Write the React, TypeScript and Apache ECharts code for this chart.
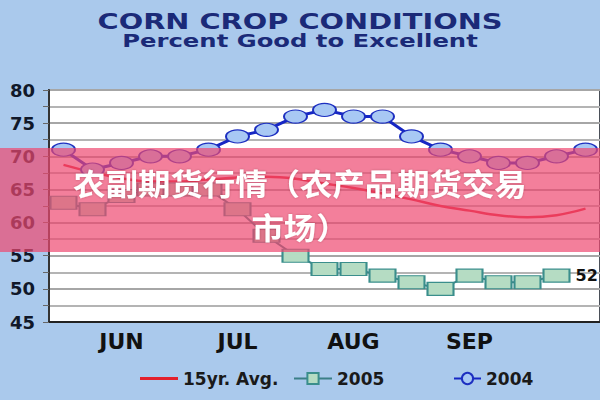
import React, { useEffect, useRef } from "react";
import * as echarts from "echarts";

const weeks = ["5/30", "6/6", "6/13", "6/20", "6/27", "7/4", "7/11", "7/18", "7/25", "8/1", "8/8", "8/15", "8/22", "8/29", "9/5", "9/12", "9/19", "9/26", "10/3"];
const monthLabels = ["", "", "JUN", "", "", "", "JUL", "", "", "", "AUG", "", "", "", "SEP", "", "", "", ""];
const avg15 = [68.7, 67.6, 66.7, 66.2, 66.2, 66.5, 66.8, 66.9, 66.6, 65.9, 65.2, 64.4, 63.5, 62.5, 61.8, 61.1, 60.8, 61.1, 62.1];
const y2005 = [63, 62, 64, 65, 65, 65, 62, 58, 55, 53, 53, 52, 51, 50, 52, 51, 51, 52];
const y2004 = [71, 68, 69, 70, 70, 71, 73, 74, 76, 77, 76, 76, 73, 71, 70, 69, 69, 70, 71];

const FONT = "DejaVu Sans";
const legendText = { fontFamily: FONT, fontWeight: "bold", fontSize: 17, color: "#1a1a1a" };

export default function App() {
  const ref = useRef<HTMLDivElement>(null);
  useEffect(() => {
    const chart = echarts.init(ref.current!, null, { renderer: "svg" });
    const last = y2005.length - 1;
    chart.setOption({
      animation: false,
      backgroundColor: "#aac9ec",
      grid: {
        left: 49,
        right: -12,
        top: 90,
        bottom: 78,
        show: true,
        backgroundColor: "#ffffff",
        borderColor: "#4a4f58",
        borderWidth: 2,
      },
      xAxis: {
        type: "category",
        data: weeks,
        boundaryGap: true,
        axisLine: { lineStyle: { color: "#222", width: 2 } },
        axisTick: { alignWithLabel: true, interval: 0, length: 6, lineStyle: { color: "#222", width: 1.5 } },
        axisLabel: {
          interval: 0,
          formatter: (_v: string, i: number) => monthLabels[i],
          fontFamily: FONT,
          fontWeight: "bold",
          fontSize: 22,
          color: "#111",
          margin: 8,
        },
        splitLine: { show: false },
      },
      yAxis: {
        type: "value",
        min: 45,
        max: 80,
        interval: 5,
        axisLine: { show: true, lineStyle: { color: "#333", width: 2 } },
        axisTick: { show: true, length: 6, lineStyle: { color: "#666" } },
        minorTick: { show: true, splitNumber: 2, length: 6, lineStyle: { color: "#666" } },
        splitLine: { show: true, lineStyle: { color: "#a6a6a6", width: 2 } },
        minorSplitLine: { show: true, lineStyle: { color: "#b4b4b4", width: 2 } },
        axisLabel: { fontFamily: FONT, fontWeight: "bold", fontSize: 18, color: "#10182a", margin: 14 },
      },
      legend: [
        {
          data: [{ name: "15yr. Avg.", icon: "rect" }], left: 140, top: 370, padding: 0,
          itemWidth: 38, itemHeight: 3, textStyle: legendText,
        },
        {
          data: ["2005"], left: 293, top: 370, padding: 0,
          itemWidth: 38, itemHeight: 14, textStyle: legendText,
        },
        {
          data: ["2004"], left: 453, top: 370, padding: 0,
          itemWidth: 27, itemHeight: 14, textStyle: legendText,
        },
      ],
      series: [
        {
          name: "15yr. Avg.",
          type: "line",
          data: avg15,
          smooth: 0.4,
          symbol: "none",
          lineStyle: { color: "#e3202c", width: 2.5 },
          itemStyle: { color: "#e3202c" },
        },
        {
          name: "2005",
          type: "line",
          data: y2005.map((v, i) =>
            i === last
              ? {
                  value: v,
                  label: {
                    show: true,
                    position: "right",
                    distance: 5,
                    fontFamily: FONT,
                    fontWeight: "bold",
                    fontSize: 16,
                    color: "#111",
                  },
                }
              : v
          ),
          symbol: "rect",
          symbolSize: [26, 13],
          itemStyle: { color: "#b5dcc3", borderColor: "#3a8e8c", borderWidth: 1.5 },
          lineStyle: { color: "#3b7f86", width: 2 },
        },
        {
          name: "2004",
          type: "line",
          data: y2004,
          symbol: "circle",
          symbolSize: [23, 13],
          itemStyle: { color: "#a8c8f4", borderColor: "#1d2fc0", borderWidth: 1.5 },
          lineStyle: { color: "#1626c4", width: 3 },
        },
      ],
      graphic: [
        {
          type: "text",
          x: 300,
          y: 21,
          scaleX: 1.31,
          style: {
            text: "CORN CROP CONDITIONS",
            fill: "#1b2a78",
            fontFamily: FONT,
            fontWeight: "bold",
            fontSize: 22,
            align: "center",
            verticalAlign: "middle",
          },
        },
        {
          type: "text",
          x: 300,
          y: 41,
          scaleX: 1.35,
          style: {
            text: "Percent Good to Excellent",
            fill: "#1b2a78",
            fontFamily: FONT,
            fontWeight: "bold",
            fontSize: 18,
            align: "center",
            verticalAlign: "middle",
          },
        },
        {
          type: "rect",
          z: 100,
          shape: { x: 0, y: 148, width: 600, height: 104 },
          style: { fill: "rgba(238,72,112,0.7)" },
        },
        {
          type: "text",
          z: 101,
          x: 300,
          y: 182,
          scaleX: 1.08,
          style: {
            text: "农副期货行情（农产品期货交易",
            fill: "#ffffff",
            fontFamily: "Noto Sans CJK SC",
            fontWeight: "bold",
            fontSize: 30,
            align: "center",
            verticalAlign: "middle",
            textShadowColor: "rgba(80,0,20,0.3)",
            textShadowBlur: 2,
          },
        },
        {
          type: "text",
          z: 101,
          x: 300,
          y: 226,
          scaleX: 1.08,
          style: {
            text: "市场）",
            fill: "#ffffff",
            fontFamily: "Noto Sans CJK SC",
            fontWeight: "bold",
            fontSize: 30,
            align: "center",
            verticalAlign: "middle",
            textShadowColor: "rgba(80,0,20,0.3)",
            textShadowBlur: 2,
          },
        },
      ],
    });
    return () => chart.dispose();
  }, []);
  return (
    <div
      ref={ref}
      style={{ position: "absolute", left: 0, top: 0, width: 600, height: 400, background: "#aac9ec" }}
    />
  );
}
